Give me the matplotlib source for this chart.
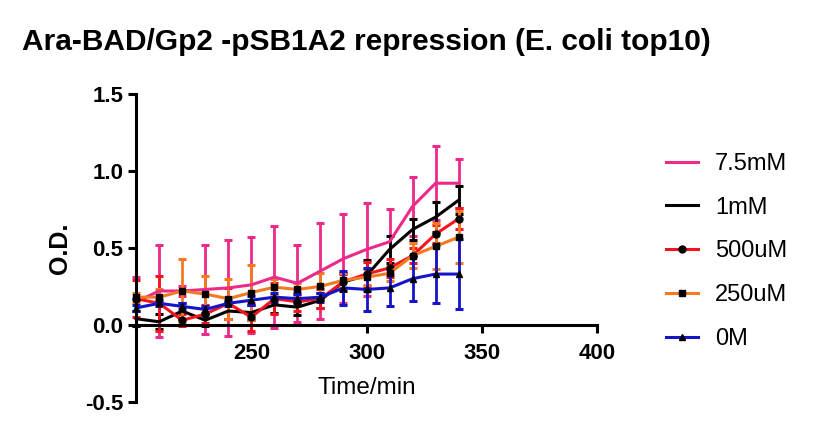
import matplotlib
matplotlib.use("Agg")
import matplotlib.pyplot as plt
from matplotlib.lines import Line2D

plt.rcParams["font.family"] = ["Liberation Sans", "DejaVu Sans"]

# ----------------------------
# Data
# ----------------------------
time_min = [200, 210, 220, 230, 240, 250, 260, 270, 280, 290, 300, 310, 320, 330, 340]

labels = ["7.5mM", "1mM", "500uM", "250uM", "0M"]

od_75mM = [0.15, 0.22, 0.22, 0.23, 0.24, 0.26, 0.31, 0.27, 0.35, 0.43, 0.49, 0.54, 0.77, 0.92, 0.92]
err_75mM = [0.16, 0.30, 0.03, 0.29, 0.31, 0.31, 0.33, 0.25, 0.31, 0.29, 0.30, 0.21, 0.19, 0.24, 0.16]

od_1mM = [0.04, 0.02, 0.09, 0.03, 0.09, 0.08, 0.13, 0.115, 0.16, 0.28, 0.32, 0.49, 0.62, 0.70, 0.81]
err_1mM = [0.05, 0.05, 0.05, 0.04, 0.05, 0.05, 0.05, 0.05, 0.05, 0.06, 0.10, 0.09, 0.07, 0.10, 0.09]

od_500uM = [0.17, 0.14, 0.03, 0.07, 0.14, 0.05, 0.17, 0.15, 0.17, 0.28, 0.33, 0.37, 0.45, 0.59, 0.69]
err_500uM = [0.12, 0.18, 0.04, 0.06, 0.10, 0.09, 0.10, 0.06, 0.06, 0.05, 0.08, 0.06, 0.05, 0.06, 0.07]

od_250uM = [0.18, 0.18, 0.22, 0.20, 0.17, 0.21, 0.245, 0.23, 0.25, 0.29, 0.31, 0.335, 0.45, 0.51, 0.57]
err_250uM = [0.03, 0.05, 0.21, 0.12, 0.13, 0.18, 0.05, 0.04, 0.09, 0.05, 0.05, 0.05, 0.08, 0.15, 0.17]

od_0M = [0.11, 0.14, 0.12, 0.10, 0.14, 0.16, 0.18, 0.17, 0.18, 0.24, 0.23, 0.24, 0.30, 0.33, 0.33]
err_0M = [0.02, 0.02, 0.02, 0.02, 0.02, 0.03, 0.03, 0.03, 0.03, 0.11, 0.14, 0.12, 0.145, 0.19, 0.23]

series = [od_75mM, od_1mM, od_500uM, od_250uM, od_0M]
errors = [err_75mM, err_1mM, err_500uM, err_250uM, err_0M]
colors = ["#ec2a8a", "#000000", "#f5141e", "#f47920", "#1414c8"]
markers = [None, None, "o", "s", "^"]

fig = plt.figure(figsize=(8.2, 4.23), dpi=100)
ax = fig.add_axes([0.166, 0.05, 0.562, 0.728])

handles = []
for y, e, c, m, lab in zip(series, errors, colors, markers, labels):
    ax.errorbar(
        time_min, y, yerr=e,
        color=c, ecolor=c, linewidth=2.2, elinewidth=2.0,
        capsize=3, capthick=2.2,
        marker=m, markersize=5, markerfacecolor="black", markeredgecolor="black",
        clip_on=False,
    )
    handles.append(Line2D([], [], color=c, linewidth=2.2, marker=m, markersize=5,
                          markerfacecolor="black", markeredgecolor="black", label=lab))

ax.set_xlim(200, 400)
ax.set_ylim(-0.5, 1.5)
ax.set_xticks([250, 300, 350, 400])
ax.set_yticks([-0.5, 0.0, 0.5, 1.0, 1.5])
ax.set_yticklabels(["-0.5", "0.0", "0.5", "1.0", "1.5"])

ax.spines["top"].set_visible(False)
ax.spines["right"].set_visible(False)
ax.spines["bottom"].set_position(("data", 0))
for s in ("left", "bottom"):
    ax.spines[s].set_linewidth(2.2)
ax.tick_params(axis="both", width=2.2, length=6, labelsize=16, direction="out")
ax.tick_params(axis="x", pad=7)
ax.tick_params(axis="y", pad=3)
for t in ax.get_xticklabels() + ax.get_yticklabels():
    t.set_fontweight("bold")

ax.set_xlabel("Time/min", fontsize=17.5)
ax.xaxis.set_label_coords(0.5, 0.081)
ax.set_ylabel("O.D.", fontsize=18, fontweight="bold", va="center")
ax.yaxis.set_label_coords(-0.165, 0.5)

fig.legend(
    handles=handles, loc="upper left",
    bbox_to_anchor=(666 / 820, 1 - 153 / 423), bbox_transform=fig.transFigure,
    frameon=False, fontsize=17, borderpad=0, borderaxespad=0,
    handlelength=1.36, labelspacing=0.92, handletextpad=0.72,
)

fig.text(22 / 820, 1 - 42 / 423, "Ara-BAD/Gp2 -pSB1A2 repression (E. coli top10)",
         fontsize=21.5, fontweight="bold", va="center", ha="left")

fig.savefig("out.png", dpi=100, facecolor="white")
